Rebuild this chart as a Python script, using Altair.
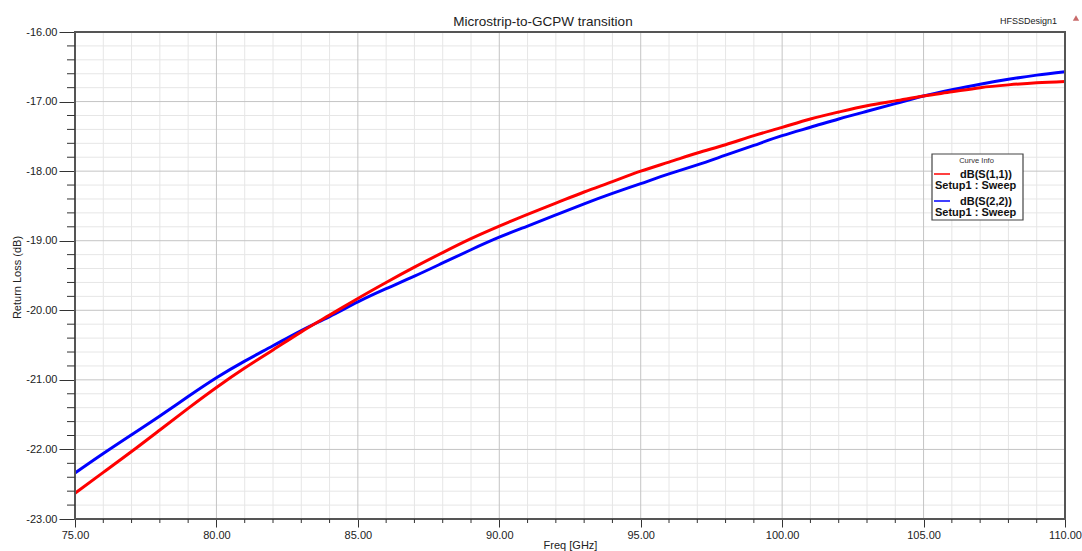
import altair as alt
import pandas as pd

freq = list(range(75, 111))
s11 = [-22.63, -22.33, -22.03, -21.72, -21.41, -21.11, -20.83, -20.57, -20.31, -20.07,
       -19.83, -19.60, -19.38, -19.17, -18.97, -18.79, -18.62, -18.46, -18.30, -18.15,
       -18.00, -17.87, -17.74, -17.62, -17.49, -17.37, -17.25, -17.15, -17.06, -16.99,
       -16.92, -16.86, -16.80, -16.76, -16.73, -16.71]
s22 = [-22.34, -22.06, -21.79, -21.52, -21.24, -20.97, -20.73, -20.51, -20.29, -20.09,
       -19.88, -19.69, -19.51, -19.32, -19.13, -18.95, -18.79, -18.63, -18.47, -18.32,
       -18.18, -18.04, -17.91, -17.77, -17.63, -17.49, -17.37, -17.25, -17.14, -17.03,
       -16.92, -16.83, -16.75, -16.68, -16.62, -16.57]
curves = ["dB(S(2,2))", "dB(S(1,1))"]
colors = ["#0000ff", "#ff0000"]
setup_label = "Setup1 : Sweep"
chart_title = "Microstrip-to-GCPW transition"
design_name = "HFSSDesign1"
x_major = [75, 80, 85, 90, 95, 100, 105, 110]
x_minor = [v for v in range(76, 110) if v % 5 != 0]
y_major = [-23, -22, -21, -20, -19, -18, -17, -16]
y_minor = [round(-23 + 0.2 * i, 1) for i in range(1, 35) if i % 5 != 0]

FONT = "Liberation Sans"
W, H = 990, 487

df = pd.concat([
    pd.DataFrame({"freq": freq, "val": s22, "curve": curves[0], "order": 0}),
    pd.DataFrame({"freq": freq, "val": s11, "curve": curves[1], "order": 1}),
])

xs = alt.Scale(domain=[75, 110], nice=False, zero=False)
ys = alt.Scale(domain=[-23, -16], nice=False, zero=False)

lab = "datum.value < 0 ? '-' + format(-datum.value, '.2f') : format(datum.value, '.2f')"

one = alt.Data(values=[{}])

xminor_grid = alt.Chart(pd.DataFrame({"x": x_minor})).mark_rule(color="#e6e6e6", strokeWidth=1).encode(
    x=alt.X("x:Q", scale=xs))
yminor_grid = alt.Chart(pd.DataFrame({"y": y_minor})).mark_rule(color="#e6e6e6", strokeWidth=1).encode(
    y=alt.Y("y:Q", scale=ys))
xmajor_grid = alt.Chart(pd.DataFrame({"x": x_major[1:-1]})).mark_rule(color="#c4c4c4", strokeWidth=1).encode(
    x=alt.X("x:Q", scale=xs))
ymajor_grid = alt.Chart(pd.DataFrame({"y": y_major[1:-1]})).mark_rule(color="#c4c4c4", strokeWidth=1).encode(
    y=alt.Y("y:Q", scale=ys))

xminor_ticks = alt.Chart(pd.DataFrame({"x": x_minor})).mark_rule(color="#333333", strokeWidth=1).encode(
    x=alt.X("x:Q", scale=xs), y=alt.value(H), y2=alt.value(H + 4))
yminor_ticks = alt.Chart(pd.DataFrame({"y": y_minor})).mark_rule(color="#333333", strokeWidth=1).encode(
    y=alt.Y("y:Q", scale=ys), x=alt.value(-8), x2=alt.value(0))

lines = alt.Chart(df).mark_line(strokeWidth=3, interpolate="natural").encode(
    x=alt.X("freq:Q", scale=xs,
            axis=alt.Axis(values=x_major, labelExpr=lab, title="Freq [GHz]", grid=False, domain=False,
                          tickSize=8, tickColor="#333333", tickWidth=1, labelFont=FONT, labelFontSize=11,
                          labelColor="#222222", labelPadding=2, titleFont=FONT, titleFontSize=11,
                          titleFontWeight="normal", titleColor="#222222", titleBaseline="alphabetic",
                          titleY=29, labelFlush=False)),
    y=alt.Y("val:Q", scale=ys,
            axis=alt.Axis(values=y_major, labelExpr=lab, title="Return Loss (dB)", grid=False, domain=False,
                          tickSize=16, tickColor="#333333", tickWidth=1, labelFont=FONT, labelFontSize=11,
                          labelColor="#222222", labelPadding=2, titleFont=FONT, titleFontSize=11,
                          titleFontWeight="normal", titleColor="#222222", titleAngle=270,
                          titleX=-58, titleY=245, titleAlign="center", titleBaseline="middle",
                          labelFlush=False)),
    color=alt.Color("curve:N", scale=alt.Scale(domain=curves, range=colors), legend=None),
    detail="order:O",
    order="order:O",
)

frame = alt.Chart(one).mark_rect(fillOpacity=0, stroke="#555555", strokeWidth=2).encode(
    x=alt.value(0), x2=alt.value(W), y=alt.value(0), y2=alt.value(H))

# legend box
box = alt.Chart(one).mark_rect(fill="white", stroke="#444444", strokeWidth=1.2).encode(
    x=alt.value(857), x2=alt.value(948), y=alt.value(122), y2=alt.value(188))
leg_title = alt.Chart(one).mark_text(font=FONT, fontSize=7.5, color="#333333", align="center",
                                     baseline="middle").encode(
    x=alt.value(901.5), y=alt.value(128.5), text=alt.value("Curve Info"))
sw1 = alt.Chart(one).mark_rule(color=colors[1], strokeWidth=1.5).encode(
    x=alt.value(859), x2=alt.value(875), y=alt.value(142))
sw2 = alt.Chart(one).mark_rule(color=colors[0], strokeWidth=1.5).encode(
    x=alt.value(859), x2=alt.value(875), y=alt.value(169))
t1 = alt.Chart(one).mark_text(font=FONT, fontSize=11, fontWeight="bold", color="#111111", align="left",
                              baseline="middle").encode(x=alt.value(885), y=alt.value(143), text=alt.value(curves[1]))
t2 = alt.Chart(one).mark_text(font=FONT, fontSize=11, fontWeight="bold", color="#111111", align="left",
                              baseline="middle").encode(x=alt.value(860), y=alt.value(153.5), text=alt.value(setup_label))
t3 = alt.Chart(one).mark_text(font=FONT, fontSize=11, fontWeight="bold", color="#111111", align="left",
                              baseline="middle").encode(x=alt.value(885), y=alt.value(170), text=alt.value(curves[0]))
t4 = alt.Chart(one).mark_text(font=FONT, fontSize=11, fontWeight="bold", color="#111111", align="left",
                              baseline="middle").encode(x=alt.value(860), y=alt.value(181), text=alt.value(setup_label))

title = alt.Chart(one).mark_text(font=FONT, fontSize=13.5, color="#222222", align="center",
                                 baseline="alphabetic").encode(
    x=alt.value(468), y=alt.value(-6.5), text=alt.value(chart_title))
design = alt.Chart(one).mark_text(font=FONT, fontSize=9, color="#222222", align="right",
                                  baseline="alphabetic").encode(
    x=alt.value(982), y=alt.value(-8), text=alt.value(design_name))
icon = alt.Chart(one).mark_point(shape="triangle-up", filled=True, size=40, color="#c86a6a", opacity=1).encode(
    x=alt.value(1001), y=alt.value(-14))

chart = alt.layer(
    xminor_grid, yminor_grid, xmajor_grid, ymajor_grid, lines, frame,
    xminor_ticks, yminor_ticks, box, leg_title, sw1, sw2, t1, t2, t3, t4, title, design, icon
).properties(
    width=W, height=H,
    autosize=alt.AutoSizeParams(type="none"),
    padding={"left": 75, "top": 32, "right": 17, "bottom": 32},
).configure_view(stroke=None).configure(background="white")

chart.save("out.html", embed_options={"renderer": "svg", "actions": False})
